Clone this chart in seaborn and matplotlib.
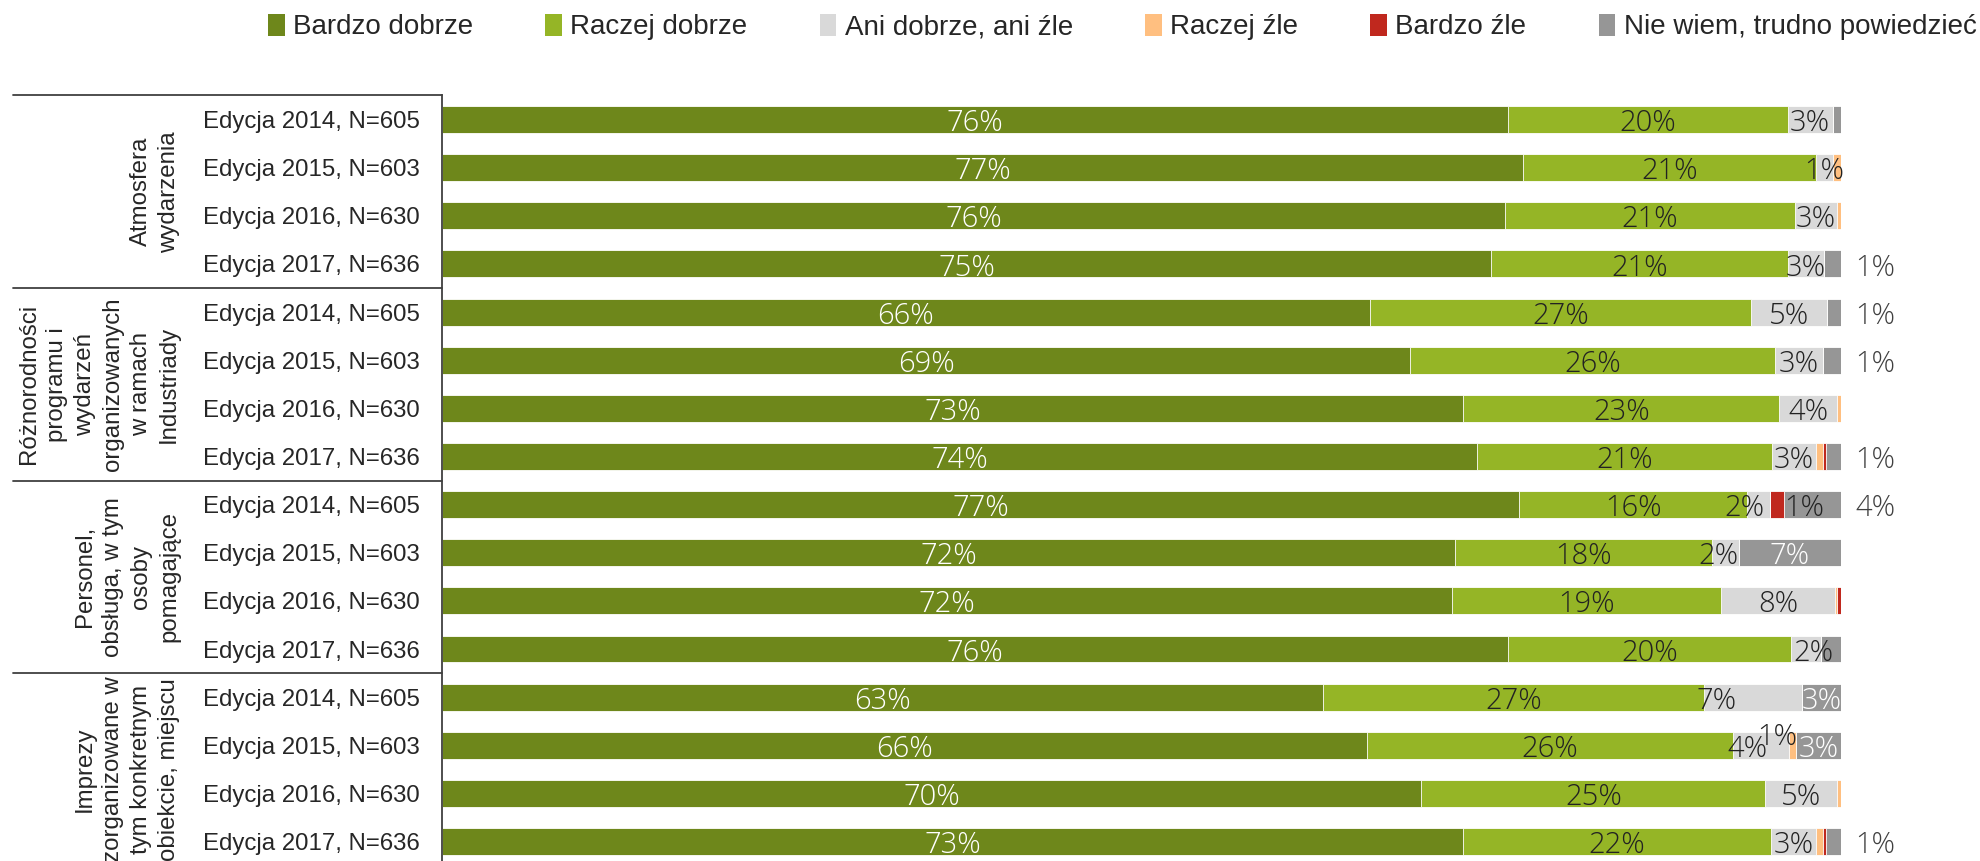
import numpy as np
import pandas as pd
import matplotlib
matplotlib.use("Agg")
import matplotlib.pyplot as plt
import matplotlib.transforms as mtransforms
from matplotlib.patches import Patch
import seaborn as sns

# Data
series = ["Bardzo dobrze", "Raczej dobrze", "Ani dobrze, ani źle",
          "Raczej źle", "Bardzo źle", "Nie wiem, trudno powiedzieć"]
colors = ["#6E871B", "#95B526", "#D9D9D9", "#FFBF80", "#C0281E", "#969696"]

groups = ["Atmosfera\nwydarzenia",
          "Różnorodności\nprogramu i\nwydarzeń\norganizowanych\nw ramach\nIndustriady",
          "Personel,\nobsługa, w tym\nosoby\npomagające",
          "Imprezy\nzorganizowane w\ntym konkretnym\nobiekcie, miejscu"]
editions = ["Edycja 2014, N=605", "Edycja 2015, N=603",
            "Edycja 2016, N=630", "Edycja 2017, N=636"]

bardzo_dobrze = [76.2, 77.3, 76.0, 75.0, 66.3, 69.2, 73.0, 74.0,
                 77.0, 72.4, 72.2, 76.2, 63.0, 66.1, 70.0, 73.0]
raczej_dobrze = [20.0, 20.9, 20.7, 21.2, 27.3, 26.1, 22.6, 21.1,
                 16.3, 18.4, 19.2, 20.2, 27.2, 26.2, 24.6, 22.0]
ani_ani = [3.2, 1.2, 3.0, 2.6, 5.4, 3.4, 4.1, 3.1,
           1.6, 1.9, 8.2, 2.2, 7.0, 4.0, 5.1, 3.2]
raczej_zle = [0.0, 0.6, 0.3, 0.0, 0.0, 0.0, 0.3, 0.5,
              0.0, 0.0, 0.1, 0.0, 0.0, 0.5, 0.3, 0.5]
bardzo_zle = [0.0, 0.0, 0.0, 0.0, 0.0, 0.0, 0.0, 0.2,
              1.0, 0.0, 0.3, 0.0, 0.0, 0.0, 0.0, 0.2]
nie_wiem = [0.6, 0.0, 0.0, 1.2, 1.0, 1.3, 0.0, 1.1,
            4.1, 7.3, 0.0, 1.4, 2.8, 3.2, 0.0, 1.1]

# labels shown for the small categories ("" = no label)
labels_rz = ["", "", "", "", "", "", "", "", "", "", "", "", "", "1%", "", ""]
labels_bz = ["", "", "", "", "", "", "", "", "1%", "", "", "", "", "", "", ""]
labels_nw = ["", "", "", "1%", "1%", "1%", "", "1%",
             "4%", "7%", "", "", "3%", "3%", "", "1%"]

values = np.array([bardzo_dobrze, raczej_dobrze, ani_ani,
                   raczej_zle, bardzo_zle, nie_wiem]).T
rows = [f"{g}|{e}" for g in range(len(groups)) for e in editions]
cum = values.cumsum(axis=1)

df = pd.DataFrame(cum, columns=series)
df["row"] = rows

sns.set_style("white")
plt.rcParams["font.family"] = ["Liberation Sans", "DejaVu Sans"]

fig = plt.figure(figsize=(19.8, 8.61), dpi=100)
ax = fig.add_axes([442 / 1980, (861 - 865.6) / 861, 1399 / 1980, (865.6 - 95.5) / 861])

# stacked bars: draw cumulative totals from the last series backwards
for k in range(len(series) - 1, -1, -1):
    sns.barplot(data=df, x=series[k], y="row", order=rows, color=colors[k],
                saturation=1, orient="h", width=0.56, errorbar=None,
                edgecolor="white", linewidth=0.6, ax=ax)

ax.set_xlim(0, 100)
ax.set_ylim(len(rows) - 0.5, -0.5)
ax.set_xlabel("")
ax.set_ylabel("")
ax.set_xticks([])
ax.set_yticks(range(len(rows)))
ax.set_yticklabels([r.split("|")[1] for r in rows], fontsize=17.3)
ax.tick_params(axis="y", length=0, pad=16)
for s in ["top", "right", "bottom"]:
    ax.spines[s].set_visible(False)
ax.spines["left"].set_color("#404040")
ax.spines["left"].set_linewidth(1.3)

# data labels
lab_font = dict(family=["Open Sans", "DejaVu Sans"], fontsize=21, fontweight="light")
text_dark = "#222222"
nw_inside = {9, 12, 13}
nudges = {(8, 2): (-1.0, 0), (8, 4): (2.0, 0), (9, 2): (-0.5, 0),
          (12, 2): (-2.6, 0), (13, 2): (-1.0, 0), (13, 3): (-1.1, -0.25),
          (11, 2): (0.5, 0)}
for i in range(len(rows)):
    for k in range(len(series)):
        v = values[i, k]
        if k < 3:
            txt = f"{round(v):.0f}%"
        elif k == 3:
            txt = labels_rz[i]
        elif k == 4:
            txt = labels_bz[i]
        else:
            txt = labels_nw[i]
        if not txt:
            continue
        x = cum[i, k] - v / 2
        y = i + 0.08
        dx, dy = nudges.get((i, k), (0, 0))
        color = "white" if k == 0 else text_dark
        ha = "center"
        if k == 5:
            if i in nw_inside:
                color = "white"
            else:
                x, ha, color = 101.0, "left", "#404040"
        ax.text(x + dx, y + dy, txt, ha=ha, va="center", color=color,
                clip_on=False, **lab_font)

# group separators and group titles
trans = mtransforms.blended_transform_factory(ax.transAxes, ax.transData)
x0 = (13 - 442) / 1399
for b in [-0.5, 3.5, 7.5, 11.5]:
    ax.plot([x0, 0], [b, b], transform=trans, color="#404040", lw=1.3,
            clip_on=False)
gx = (180 - 442) / 1399
for g, name in enumerate(groups):
    ax.text(gx, g * 4 + 1.5, name, transform=trans, rotation=90, ha="right",
            va="center", multialignment="center", fontsize=17.3,
            linespacing=1.35)

# legend
handles = [Patch(facecolor=c, edgecolor="none") for c in colors]
fig.legend(handles, series, loc="center left",
           bbox_to_anchor=(268 / 1980, 1 - 27 / 861), ncol=6, frameon=False,
           fontsize=20, handlelength=0.6, handleheight=0.85, handletextpad=0.3,
           columnspacing=2.6, borderaxespad=0, borderpad=0)

fig.savefig("out.png", dpi=100)
